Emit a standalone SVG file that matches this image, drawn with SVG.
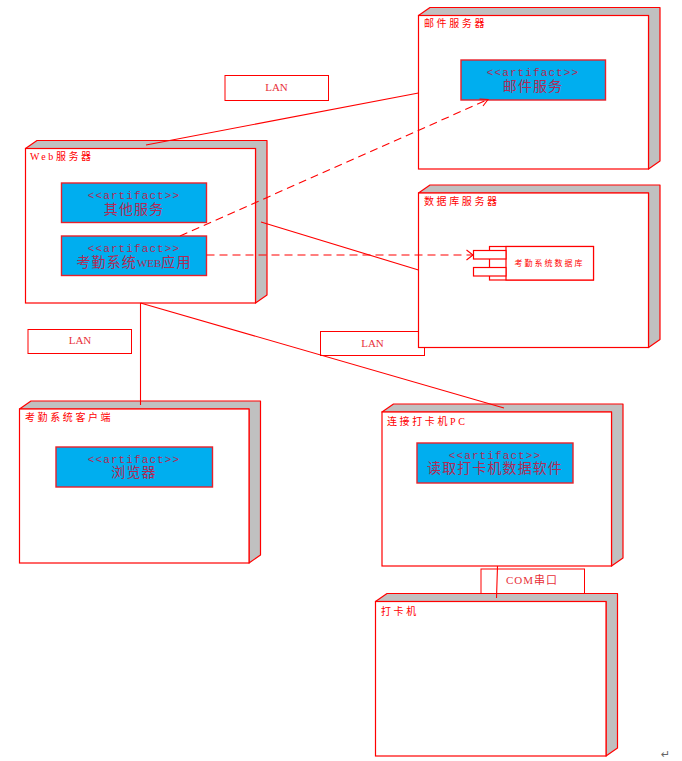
<svg xmlns="http://www.w3.org/2000/svg" width="682" height="761" viewBox="0 0 682 761">
<style>
.f{fill:#fff;stroke:#f00;stroke-width:1.2}
.s{fill:#c0c0c0;stroke:#f00;stroke-width:1.2;stroke-linejoin:round}
.a{fill:#00aeef;stroke:#e8202a;stroke-width:1.4}
.l{fill:#fff;stroke:#f00;stroke-width:1}
.c{fill:none;stroke:#f00;stroke-width:1.1}
.d{fill:none;stroke:#f00;stroke-width:1.1;stroke-dasharray:8 5}
text{font-family:"Liberation Serif","Noto Sans CJK SC",serif;fill:#f00}
.t{font-size:10px;font-family:"Liberation Serif","Noto Sans CJK SC",serif;letter-spacing:2.6px}
.h{font-size:11px;text-anchor:middle;fill:#b02a55;font-family:"Liberation Mono",monospace;letter-spacing:1.1px}
.b{font-size:14px;text-anchor:middle;fill:#b02a55;font-family:"Liberation Serif","Noto Sans CJK SC",serif;letter-spacing:1.1px}
.n{font-size:11px;text-anchor:middle;fill:#e8303a}
</style>
<g id="label-lan-1"><rect class="l" x="225" y="75.500" width="103.500" height="25"/><text class="n" x="276.500" y="91">LAN</text></g>
<g id="label-lan-2"><rect class="l" x="28" y="329.500" width="103.500" height="24"/><text class="n" x="80" y="344">LAN</text></g>
<g id="label-lan-3"><rect class="l" x="320.500" y="331.500" width="104" height="24"/><text class="n" x="372.500" y="347">LAN</text></g>
<g id="node-mail">
<path class="s" d="M418.500 15.500L430 7.500H660V161L648.500 169V15.500Z"/>
<rect class="f" x="418.500" y="15.500" width="230" height="153.500"/>
<text class="t" x="424" y="27">邮件服务器</text>
<g id="artifact-mail"><rect class="a" x="461" y="60" width="144.500" height="40"/><text class="h" x="533" y="76">&lt;&lt;artifact&gt;&gt;</text><text class="b" x="533" y="91">邮件服务</text></g>
</g>
<g id="node-web">
<path class="s" d="M25.500 148.500L37 140.500H267V295L255.500 303V148.500Z"/>
<rect class="f" x="25.500" y="148.500" width="230" height="154.500"/>
<text class="t" x="30" y="160">Web服务器</text>
<g id="artifact-other"><rect class="a" x="61.500" y="183" width="145" height="39.500"/><text class="h" x="134" y="199">&lt;&lt;artifact&gt;&gt;</text><text class="b" x="134" y="214">其他服务</text></g>
<g id="artifact-webapp"><rect class="a" x="61.500" y="236" width="145" height="39.500"/><text class="h" x="134" y="252">&lt;&lt;artifact&gt;&gt;</text><text class="b" x="134" y="267">考勤系统<tspan font-size="11" letter-spacing="0">WEB</tspan>应用</text></g>
</g>
<g id="node-db">
<path class="s" d="M418.500 193L430 185H660V339.500L648.500 347.500V193Z"/>
<rect class="f" x="418.500" y="193" width="230" height="154.500"/>
<text class="t" x="424" y="205">数据库服务器</text>
<g id="component-db">
<rect class="f" x="489.500" y="246.500" width="104" height="33.500"/>
<rect class="f" x="506" y="246.500" width="87.500" height="33.500"/>
<rect class="f" x="473.500" y="250.500" width="32.500" height="8.500"/>
<rect class="f" x="473.500" y="267.500" width="32.500" height="8.500"/>
<text x="549.500" y="265.500" font-size="8" text-anchor="middle" letter-spacing="2">考勤系统数据库</text>
</g>
</g>
<g id="node-client">
<path class="s" d="M19.500 409L31 401H260.500V555L249 563V409Z"/>
<rect class="f" x="19.500" y="409" width="229.500" height="154"/>
<text class="t" x="25" y="421">考勤系统客户端</text>
<g id="artifact-browser"><rect class="a" x="56" y="447" width="156.500" height="40"/><text class="h" x="134" y="463">&lt;&lt;artifact&gt;&gt;</text><text class="b" x="134" y="477">浏览器</text></g>
</g>
<g id="node-pc">
<path class="s" d="M382 412L393.500 404H623V558L611.500 566V412Z"/>
<rect class="f" x="382" y="412" width="229.500" height="154"/>
<text class="t" x="387" y="425">连接打卡机PC</text>
<g id="artifact-reader"><rect class="a" x="417" y="443" width="156" height="40"/><text class="h" x="495" y="459">&lt;&lt;artifact&gt;&gt;</text><text class="b" x="495" y="473">读取打卡机数据软件</text></g>
</g>
<g id="label-com"><rect class="l" x="481" y="569" width="103.500" height="25"/><text class="n" x="532" y="584" letter-spacing="1">COM串口</text></g>
<g id="node-printer">
<path class="s" d="M375.500 601.500L387 593.500H617.500V748L606 756V601.500Z"/>
<rect class="f" x="375.500" y="601.500" width="230.500" height="154.500"/>
<text class="t" x="381" y="615">打卡机</text>
</g>
<g id="connectors">
<path class="c" d="M146 145L418.500 93"/>
<path class="c" d="M261 222L418.500 270"/>
<path class="c" d="M140.500 303V405"/>
<path class="c" d="M140.500 303L504 408"/>
<path class="c" d="M497.500 566L496.500 598"/>
<path class="d" d="M180 236L488 99.500"/>
<path class="c" d="M479.500 99L488 99.500L483 106"/>
<path class="d" d="M206.500 255H473"/>
<path class="c" d="M466.500 250L473 255L466.500 260"/>
</g>
<text x="661" y="758" font-size="11" style="fill:#666;font-family:'DejaVu Sans',sans-serif">↵</text>
</svg>
